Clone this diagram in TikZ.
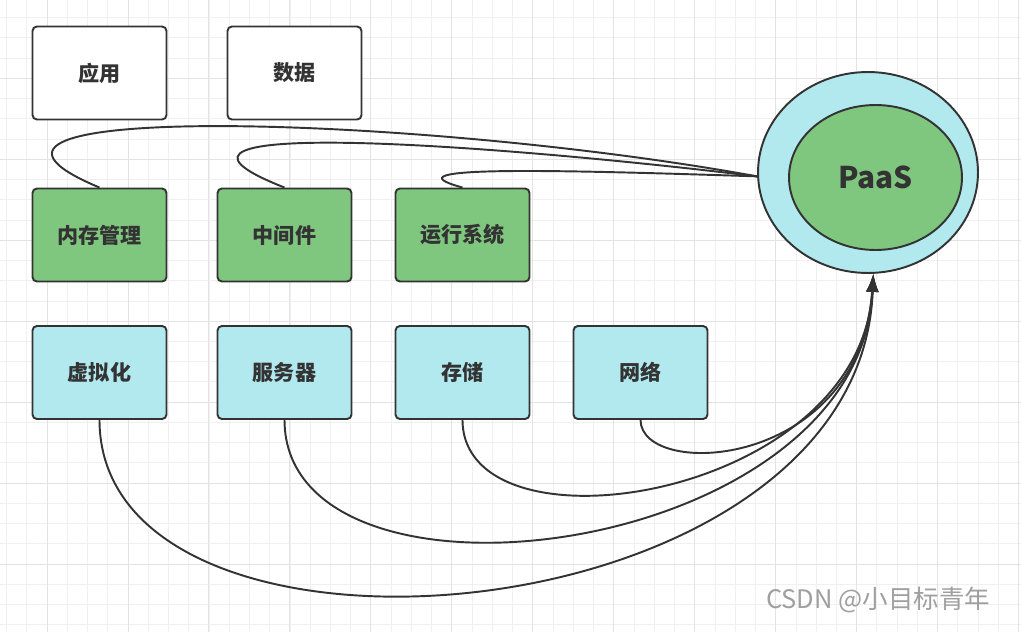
\documentclass[tikz,border=0pt]{standalone}
\usepackage{fontspec}
\setmainfont{Noto Sans CJK SC}
\usetikzlibrary{shapes.geometric,arrows.meta}
\definecolor{inkgray}{RGB}{51,51,51}
\definecolor{layergreen}{RGB}{127,198,127}
\definecolor{layercyan}{RGB}{177,233,239}
\tikzset{
    layer/.style = {
        rectangle,
        draw=inkgray,
        line width=1.1pt,
        rounded corners=2.5pt,
        minimum width=2.68cm,
        minimum height=1.86cm,
        inner sep=0pt,
        text=inkgray,
        font=\fontsize{12}{14}\selectfont\bfseries,
    },
    plainlayer/.style = {layer, fill=white},
    greenlayer/.style = {layer, fill=layergreen},
    cyanlayer/.style = {layer, fill=layercyan},
    blob/.style = {ellipse, draw=inkgray, line width=1.1pt, inner sep=0pt},
    link/.style = {draw=inkgray, line width=1.1pt},
    uplink/.style = {link, -{Latex[length=0.36cm,width=0.25cm]}},
    gridline/.style = {draw=gray!12, line width=0.4pt},
    gridmajor/.style = {draw=gray!22, line width=0.5pt}
}

\begin{document}
\begin{tikzpicture}[x=0.02cm, y=-0.02cm]
  \useasboundingbox (0,0) rectangle (1021,632);

  % background grid
  \foreach \gx in {0,...,50}
    \draw[gridline] ({6.5+20.24*\gx},0) -- ({6.5+20.24*\gx},632);
  \foreach \gy in {-1,...,31}
    \draw[gridline] (0,{17.5+20.24*\gy}) -- (1021,{17.5+20.24*\gy});
  \foreach \gx in {0,...,12}
    \draw[gridmajor] ({46.98+80.96*\gx},0) -- ({46.98+80.96*\gx},632);
  \foreach \gy in {-1,...,7}
    \draw[gridmajor] (0,{78.2+80.96*\gy}) -- (1021,{78.2+80.96*\gy});

  % top row
  \node[plainlayer] (app)  at (99.5,73)  {应用};
  \node[plainlayer] (data) at (294.5,73) {数据};

  % middle row
  \node[greenlayer] (mem)  at (99.5,235)  {内存管理};
  \node[greenlayer] (mid)  at (284.5,235) {中间件};
  \node[greenlayer] (run)  at (462.5,235) {运行系统};

  % bottom row
  \node[cyanlayer] (virt) at (99.5,372.5)  {虚拟化};
  \node[cyanlayer] (srv)  at (284.5,372.5) {服务器};
  \node[cyanlayer] (disk) at (462.5,372.5) {存储};
  \node[cyanlayer] (net)  at (640.5,372.5) {网络};

  % PaaS
  \node[blob, fill=layercyan, minimum width=4.4cm, minimum height=4.02cm] (ring) at (868,172.5) {};
  \node[blob, fill=layergreen, minimum width=3.46cm, minimum height=2.9cm,
        text=inkgray, font=\fontsize{17}{20}\selectfont\bfseries] (core) at (875.5,177.5) {PaaS};

  % links into the ring
  \draw[link] (mem.north) .. controls (-110,100) and (420,115) .. (ring.182);
  \draw[link] (mid.north) .. controls (100,115) and (500,145) .. (ring.182);
  \draw[link] (run.north) .. controls (380,165) and (560,170) .. (ring.182);

  \draw[uplink] (virt.south) .. controls (100,700) and (860,640) .. (ring.-87);
  \draw[uplink] (srv.south)  .. controls (285,630) and (860,560) .. (ring.-87);
  \draw[uplink] (disk.south) .. controls (463,560) and (860,500) .. (ring.-87);
  \draw[uplink] (net.south)  .. controls (641,480) and (860,470) .. (ring.-87);

  % watermark
  \node[anchor=west, text=gray!75, font=\fontsize{14.5}{16}\selectfont] (credit) at (760,600) {CSDN @小目标青年};
\end{tikzpicture}
\end{document}
